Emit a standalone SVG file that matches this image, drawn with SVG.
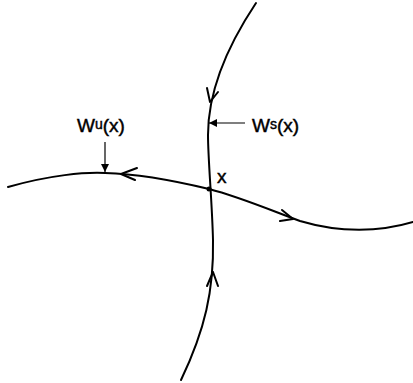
<svg xmlns="http://www.w3.org/2000/svg" width="413" height="383" viewBox="0 0 413 383">
<style>
.c{fill:none;stroke:#000;stroke-width:2;stroke-linecap:round;stroke-linejoin:round}
.a{fill:none;stroke:#000;stroke-width:1.2}
.t{font-family:"Liberation Sans",Arial,sans-serif;font-size:19px;fill:#000;stroke:#000;stroke-width:0.45}
.s{font-size:14px}
</style>
<rect width="413" height="383" fill="#fff"/>
<defs>
<marker id="ah" viewBox="0 0 10 10" refX="10" refY="5" markerWidth="8" markerHeight="8" markerUnits="userSpaceOnUse" orient="auto">
<path d="M0,0 L10,5 L0,10 z" fill="#000"/>
</marker>
</defs>
<g id="connectors">
<path id="stable" class="c" d="M256,3 C228,45 208,90 208,135 C208,160 212,200 213,240 C214,290 205,330 181,380"/>
<path id="unstable" class="c" d="M8,187 C50,175 85,172 105,173 C140,174 180,182 209,189 C240,197 270,210 300,221 C340,233 380,232 413,222"/>
<polyline class="c" points="207,88 210,102 218,92"/>
<polyline class="c" points="207,286 213,272 218,286"/>
<polyline class="c" points="137,168 121,174 135,180"/>
<polyline class="c" points="282,210 293,219 280,221"/>
<line class="a" x1="245" y1="123" x2="209" y2="123" marker-end="url(#ah)"/>
<line class="a" x1="105" y1="142" x2="105" y2="172" marker-end="url(#ah)"/>
</g>
<g id="point-x">
<circle cx="209" cy="189" r="2.5" fill="#000"/>
<text class="t" x="217" y="183">x</text>
</g>
<g id="label-Ws">
<text class="t" x="252" y="132">W<tspan class="s" dy="-3">s</tspan><tspan dy="3">(x)</tspan></text>
</g>
<g id="label-Wu">
<text class="t" x="77" y="132">W<tspan class="s" dy="-3">u</tspan><tspan dy="3">(x)</tspan></text>
</g>
</svg>
